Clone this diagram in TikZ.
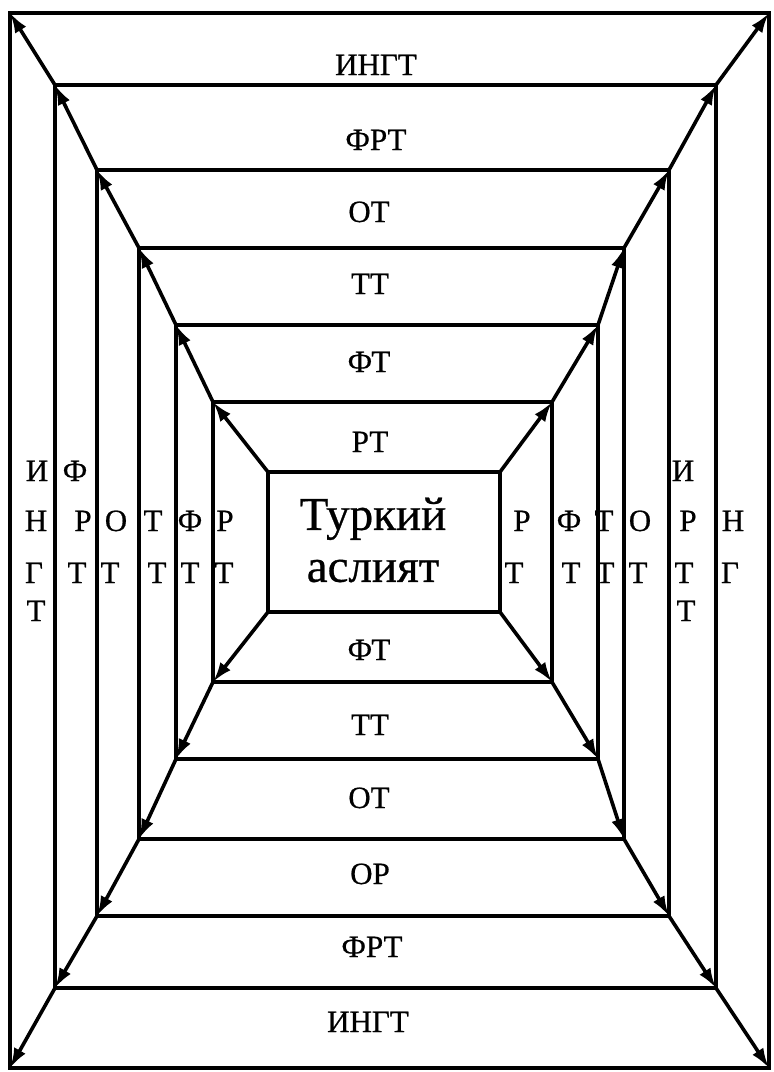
\documentclass[tikz,border=0pt]{standalone}
\usepackage{fontspec}
\setmainfont{Liberation Serif}
\newfontfamily\scanfont[FakeBold=0.6]{Liberation Serif}
\usepackage{tikz}
\usetikzlibrary{positioning,arrows.meta}

\begin{document}
\begin{tikzpicture}[
  x=1pt, y=-1pt,
  ring/.style={draw=black, line width=3.8pt, outer sep=0pt, inner sep=0pt},
  lbl/.style={anchor=base, inner sep=0pt, font=\scanfont\fontsize{31}{31}\selectfont},
  coretext/.style={align=center, inner sep=0pt, font=\scanfont\fontsize{47}{52}\selectfont},
  arr/.style={-{Latex[length=20pt, width=13pt]}, line width=3.6pt, draw=black}
]
\useasboundingbox (0,0) rectangle (774,1072);
\node[ring, minimum width=759pt, minimum height=1055pt] (r0) at (389.5,540.5) {};
\node[ring, minimum width=661pt, minimum height=903pt] (r1) at (385.5,536.5) {};
\node[ring, minimum width=572pt, minimum height=746pt] (r2) at (383,543) {};
\node[ring, minimum width=485pt, minimum height=591pt] (r3) at (381.5,543.5) {};
\node[ring, minimum width=422pt, minimum height=434pt] (r4) at (387,542) {};
\node[ring, minimum width=339pt, minimum height=280pt] (r5) at (382.5,542) {};
\node[ring, minimum width=232pt, minimum height=140pt] (box) at (384,542) {};
\node[coretext] (title) at (373,540) {Туркий\\аслият};
\node[lbl] (top0) at (376,75) {ИНГТ};
\node[lbl] (top1) at (376,150) {ФРТ};
\node[lbl] (top2) at (369,222) {ОТ};
\node[lbl] (top3) at (370,294) {ТТ};
\node[lbl] (top4) at (369,372) {ФТ};
\node[lbl] (top5) at (370,452) {РТ};
\node[lbl] (bot5) at (369,660) {ФТ};
\node[lbl] (bot4) at (370,735) {ТТ};
\node[lbl] (bot3) at (369,808) {ОТ};
\node[lbl] (bot2) at (370,884) {ОР};
\node[lbl] (bot1) at (372,957) {ФРТ};
\node[lbl] (bot0) at (368,1032) {ИНГТ};
\foreach \x/\y/\t [count=\i] in {37/481/И, 36/531/Н, 34/583/Г, 36/621/Т,
    75/481/Ф, 83/531/Р, 77/583/Т, 116/531/О, 110/583/Т,
    153/531/Т, 157/583/Т, 190/531/Ф, 190/583/Т, 225/531/Р, 224/583/Т,
    522/531/Р, 514/583/Т, 569/531/Ф, 571/583/Т, 604/531/Т, 605/583/Т,
    640/531/О, 638/583/Т, 683/481/И, 688/531/Р, 684/583/Т, 686/621/Т,
    733/531/Н, 730/583/Г}
  \node[lbl] (side\i) at (\x,\y) {\t};
\foreach \a/\b in {box/r5, r5/r4, r4/r3, r3/r2, r2/r1, r1/r0}
  \foreach \c in {north west, north east, south west, south east}
    \draw[arr] (\a.\c) -- (\b.\c);
\end{tikzpicture}
\end{document}
